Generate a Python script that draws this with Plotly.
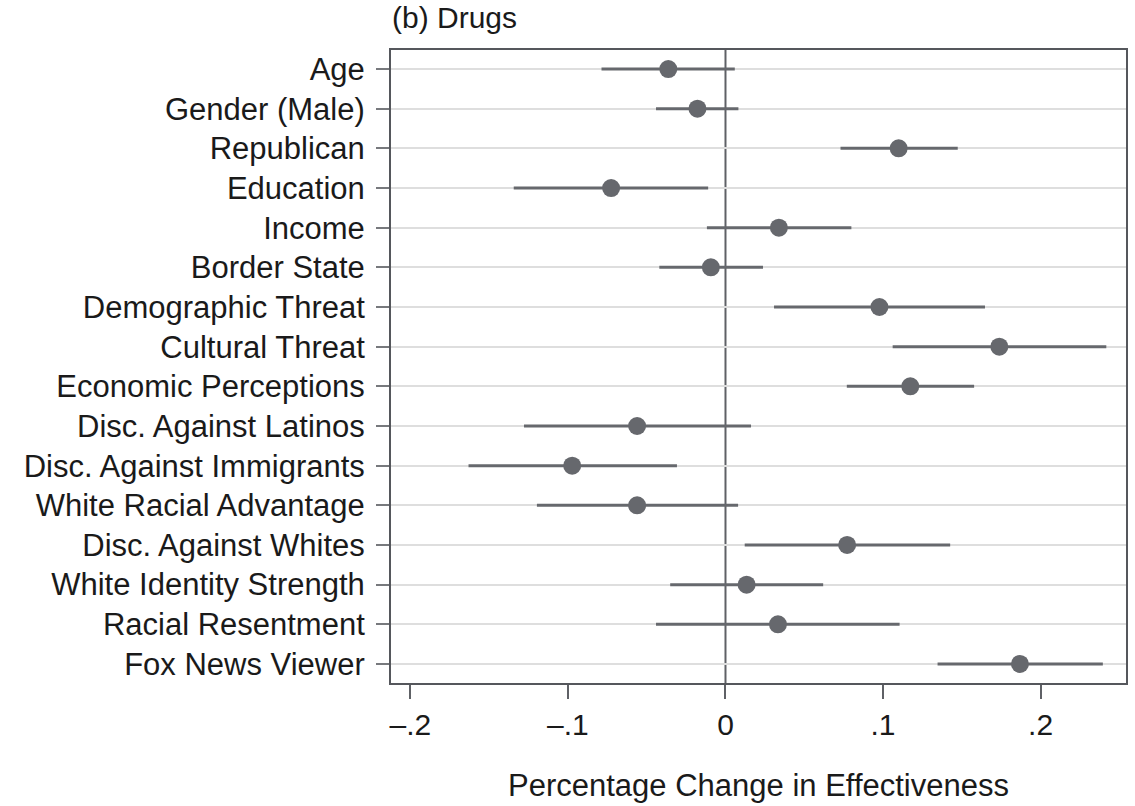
import plotly.graph_objects as go

labels = ["Age", "Gender (Male)", "Republican", "Education", "Income", "Border State",
          "Demographic Threat", "Cultural Threat", "Economic Perceptions",
          "Disc. Against Latinos", "Disc. Against Immigrants", "White Racial Advantage",
          "Disc. Against Whites", "White Identity Strength", "Racial Resentment",
          "Fox News Viewer"]
estimate = [-0.0363, -0.0178, 0.1099, -0.0726, 0.0339, -0.0093, 0.0977, 0.1738, 0.1173,
            -0.0561, -0.0973, -0.0561, 0.0772, 0.0134, 0.0333, 0.1869]
ci_low = [-0.0787, -0.0441, 0.0730, -0.1344, -0.0118, -0.0420, 0.0308, 0.1061, 0.0770,
          -0.1279, -0.1631, -0.1197, 0.0122, -0.0351, -0.0441, 0.1346]
ci_high = [0.0059, 0.0082, 0.1474, -0.0110, 0.0799, 0.0238, 0.1647, 0.2417, 0.1578,
           0.0162, -0.0308, 0.0080, 0.1426, 0.0620, 0.1105, 0.2395]
x_ticks = [-0.2, -0.1, 0, 0.1, 0.2]
x_ticktext = ["\u2013.2", "\u2013.1", "0", ".1", ".2"]

ypos = list(range(1, len(labels) + 1))
dark = "#66686d"

fig = go.Figure()
fig.add_trace(go.Scatter(
    x=estimate, y=ypos, mode="markers",
    marker=dict(size=18, color=dark),
    error_x=dict(type="data", symmetric=False,
                 array=[h - e for h, e in zip(ci_high, estimate)],
                 arrayminus=[e - l for e, l in zip(estimate, ci_low)],
                 width=0, thickness=3, color=dark),
    showlegend=False, cliponaxis=False,
))

fig.add_vline(x=0, line=dict(color="#5f6166", width=2), layer="below")

font_family = "Liberation Sans, Arial, sans-serif"
fig.update_layout(
    width=1135, height=806,
    margin=dict(l=391, r=7, t=50, b=123),
    paper_bgcolor="white", plot_bgcolor="white",
    font=dict(family=font_family, color="#1a1a1a"),
    annotations=[dict(text="(b) Drugs", x=0, y=1, xref="paper", yref="paper",
                      xanchor="left", yanchor="bottom", yshift=14, xshift=-1,
                      showarrow=False, font=dict(size=30, color="#1a1a1a"))],
)
fig.update_xaxes(
    range=[-0.2123, 0.2542], tickvals=x_ticks, ticktext=x_ticktext,
    ticks="outside", ticklen=14, tickwidth=2, tickcolor="#5f6166",
    tickfont=dict(size=30), showgrid=False, zeroline=False,
    showline=True, linecolor="#55575c", linewidth=2, mirror=True,
    title=dict(text="Percentage Change in Effectiveness", font=dict(size=31), standoff=34),
)
fig.update_yaxes(
    range=[16.48, 0.52], tickvals=ypos, ticktext=labels,
    ticks="outside", ticklen=13, tickwidth=2, tickcolor="#77797d",
    tickfont=dict(size=31), ticklabelstandoff=5,
    showgrid=True, gridcolor="#dedede", gridwidth=2, zeroline=False,
    showline=True, linecolor="#55575c", linewidth=2, mirror=True,
)

fig.write_html("out.html", config={"displayModeBar": False},
               post_script="document.body.style.margin='0px';")
